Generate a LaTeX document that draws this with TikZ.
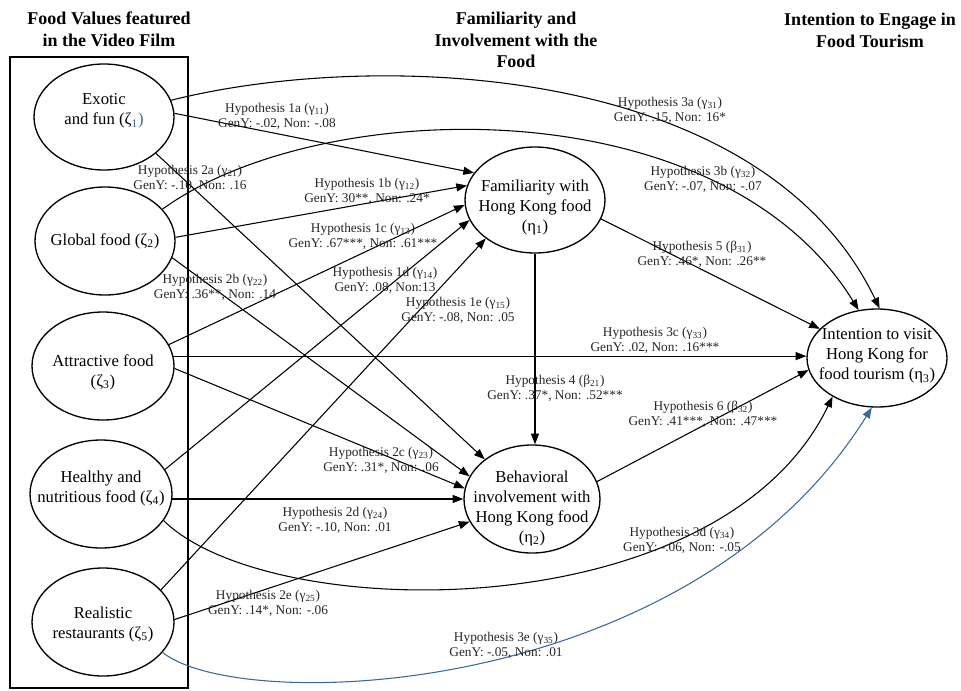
\documentclass[tikz,border=0pt]{standalone}
\usepackage{fontspec}
\setmainfont{Liberation Serif}
\usetikzlibrary{shapes.geometric,arrows.meta}
\definecolor{curveblue}{HTML}{3A679E}
\newcommand{\sbs}[1]{\textsubscript{#1}}
\begin{document}
\begin{tikzpicture}[x=0.75pt,y=-0.75pt,
  ell/.style={draw, ellipse, line width=1pt, inner sep=0pt},
  etext/.style={align=center, font=\fontsize{12.5}{15}\selectfont, inner sep=0pt},
  hyp/.style={align=center, font=\fontsize{10}{11.3}\selectfont, inner sep=0pt, text=black!85},
  head/.style={align=center, font=\fontsize{13.5}{16.3}\selectfont\bfseries, inner sep=0pt},
  conn/.style={line width=0.8pt, -{Triangle[length=8pt,width=6pt]}},
]
\useasboundingbox (0,0) rectangle (961,690);

% headers
\node[head] (hd1) at (109,29) {Food Values featured\\in the Video Film};
\node[head] (hd2) at (516,40) {Familiarity and\\Involvement with the\\Food};
\node[head] (hd3) at (870,30) {Intention to Engage in\\Food Tourism};

% left box
\node[draw, line width=1.2pt, minimum width=133.5pt, minimum height=473.25pt, inner sep=0pt] (box) at (99,372.5) {};

% ellipses
\node[ell, minimum width=105pt, minimum height=79.5pt] (z1) at (104,117) {};
\node[ell, minimum width=105pt, minimum height=81pt] (z2) at (105,241) {};
\node[ell, minimum width=106.5pt, minimum height=81pt] (z3) at (103,366) {};
\node[ell, minimum width=106.5pt, minimum height=81pt] (z4) at (101,494) {};
\node[ell, minimum width=106.5pt, minimum height=81pt] (z5) at (103,622) {};
\node[ell, minimum width=105pt, minimum height=79.5pt] (h1) at (535,200) {};
\node[ell, minimum width=102pt, minimum height=81pt] (h2) at (532,499) {};
\node[ell, minimum width=105pt, minimum height=73.5pt] (h3) at (877,358) {};

% ellipse texts
\node[etext] (z1t) at (104,111) {Exotic\\and fun (ζ\textcolor{curveblue}{\sbs{1})}};
\node[etext] (z2t) at (105,241) {Global food (ζ\sbs{2})};
\node[etext] (z3t) at (103,372) {Attractive food\\(ζ\sbs{3})};
\node[etext] (z4t) at (101,488) {Healthy and\\nutritious food (ζ\sbs{4})};
\node[etext] (z5t) at (103,624) {Realistic\\restaurants (ζ\sbs{5})};
\node[etext] (h1t) at (535,207) {Familiarity with\\Hong Kong food\\(η\sbs{1})};
\node[etext] (h2t) at (532,508) {Behavioral\\involvement with\\Hong Kong food\\(η\sbs{2})};
\node[etext] (h3t) at (877,356) {Intention to visit\\Hong Kong for\\food tourism (η\sbs{3})};

% connectors
\draw[conn] (z1.14) .. controls (370,50) and (760,60) .. (h3.87);
\draw[conn] (z2.29) .. controls (320,95) and (720,85) .. (h3.111);
\draw[conn] (z1.3) -- (h1.156);
\draw[conn] (z1.-35) -- (h2.140);
\draw[conn] (z2.3) -- (h1.168);
\draw[conn] (z2.-14) -- (h2.160);
\draw[conn] (z3.18) -- (h1.184);
\draw[conn] (z3.8) -- (z3.8 -| h3.west);
\draw[conn] (z3.-2) -- (h2.171);
\draw[conn] (z4.21) -- (h1.197);
\draw[conn] (z4.-4) -- (z4.-4 -| h2.west);
\draw[conn] (z4.-23) .. controls (270,625) and (720,630) .. (h3.221);
\draw[conn] (z5.29) -- (h1.218);
\draw[conn] (z5.2) -- (h2.200);
\draw[conn, curveblue] (z5.-27) .. controls (240,715) and (690,700) .. (h3.264);
\draw[conn] (h1.-16) -- (h3.153);
\draw[conn] (h1.south) -- (h1.south |- h2.north);
\draw[conn] (h2.15) -- (h3.190);

% hypothesis labels
\node[hyp] (l1a) at (277,116) {Hypothesis 1a (γ\sbs{11})\\GenY: -.02, Non: -.08};
\node[hyp] (l2a) at (190,178) {Hypothesis 2a (γ\sbs{21})\\GenY: -.10, Non: .16};
\node[hyp] (l1b) at (367,191) {Hypothesis 1b (γ\sbs{12})\\GenY: 30**, Non: .24*};
\node[hyp] (l1c) at (363,236) {Hypothesis 1c (γ\sbs{13})\\GenY: .67***, Non: .61***};
\node[hyp] (l2b) at (215,287) {Hypothesis 2b (γ\sbs{22})\\GenY: .36**, Non: .14};
\node[hyp] (l1d) at (385,280) {Hypothesis 1d (γ\sbs{14})\\GenY: .08, Non:13};
\node[hyp] (l1e) at (458,310) {Hypothesis 1e (γ\sbs{15})\\GenY: -.08, Non: .05};
\node[hyp] (l3a) at (670,110) {Hypothesis 3a (γ\sbs{31})\\GenY: .15, Non: 16*};
\node[hyp] (l3b) at (703,179) {Hypothesis 3b (γ\sbs{32})\\GenY: -.07, Non: -.07};
\node[hyp] (l5) at (702,254) {Hypothesis 5 (β\sbs{31})\\GenY: .46*, Non: .26**};
\node[hyp] (l3c) at (655,340) {Hypothesis 3c (γ\sbs{33})\\GenY: .02, Non: .16***};
\node[hyp] (l4) at (555,388) {Hypothesis 4 (β\sbs{21})\\GenY: .37*, Non: .52***};
\node[hyp] (l6) at (703,414) {Hypothesis 6 (β\sbs{32})\\GenY: .41***, Non: .47***};
\node[hyp] (l2c) at (381,460) {Hypothesis 2c (γ\sbs{23})\\GenY: .31*, Non: .06};
\node[hyp] (l2d) at (335,520) {Hypothesis 2d (γ\sbs{24})\\GenY: -.10, Non: .01};
\node[hyp] (l3d) at (682,540) {Hypothesis 3d (γ\sbs{34})\\GenY: -.06, Non: -.05};
\node[hyp] (l2e) at (268,603) {Hypothesis 2e (γ\sbs{25})\\GenY: .14*, Non: -.06};
\node[hyp] (l3e) at (506,645) {Hypothesis 3e (γ\sbs{35})\\GenY: -.05, Non: .01};
\end{tikzpicture}
\end{document}
